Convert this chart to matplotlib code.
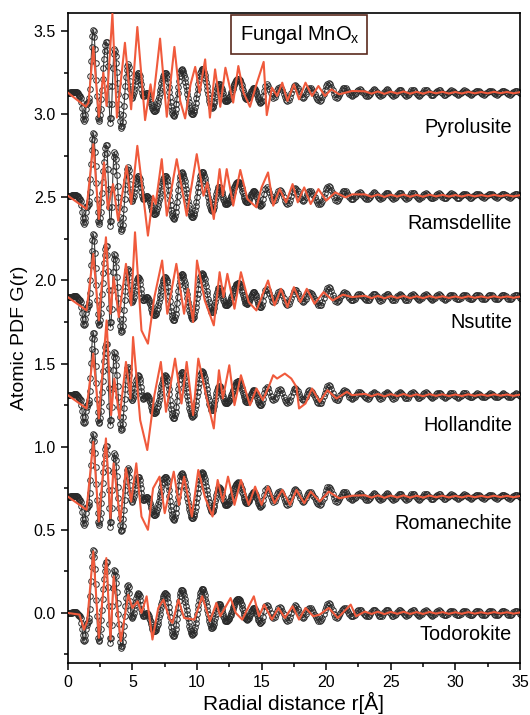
import numpy as np
import matplotlib
matplotlib.use("Agg")
import matplotlib.pyplot as plt
from matplotlib.ticker import MultipleLocator, FormatStrFormatter

plt.rcParams['font.family'] = ['Liberation Sans', 'DejaVu Sans']
plt.rcParams['mathtext.default'] = 'regular'

# ---------------- data ----------------
# Experimental PDF of fungal MnOx
# fine part: r = 0.00 ... 15.00 Å every 0.05 Å
exp_fine_step = 0.05
exp_g_fine = [
    0.000, 0.000, 0.000, 0.000, 0.001, 0.001, 0.002, 0.003, 0.004, 0.005,   # 0.00-0.45
    0.005, 0.006, 0.006, 0.005, 0.001, -0.004, -0.010, -0.015, -0.019, -0.020,  # 0.50-0.95
    -0.030, -0.058, -0.095, -0.133, -0.160, -0.170, -0.160, -0.132, -0.098, -0.070,  # 1.00-1.45
    -0.060, -0.056, -0.050, -0.031, 0.023, 0.101, 0.191, 0.277, 0.343, 0.377,  # 1.50-1.95
    0.373, 0.335, 0.265, 0.177, 0.075, -0.020, -0.099, -0.152, -0.170, -0.161,  # 2.00-2.45
    -0.136, -0.096, -0.040, 0.017, 0.083, 0.147, 0.204, 0.252, 0.288, 0.307,  # 2.50-2.95
    0.305, 0.255, 0.158, 0.041, -0.067, -0.151, -0.180, -0.151, -0.070, 0.040,  # 3.00-3.45
    0.150, 0.231, 0.260, 0.251, 0.223, 0.180, 0.124, 0.058, -0.008, -0.069,  # 3.50-3.95
    -0.130, -0.172, -0.200, -0.210, -0.201, -0.174, -0.132, -0.079, -0.020, 0.039,  # 4.00-4.45
    0.092, 0.134, 0.161, 0.170, 0.157, 0.120, 0.070, 0.020, -0.017, -0.030,  # 4.50-4.95
    -0.026, -0.016, 0.001, 0.022, 0.045, 0.068, 0.089, 0.106, 0.116, 0.120,  # 5.00-5.45
    0.115, 0.100, 0.077, 0.050, 0.023, 0.000, -0.015, -0.020, -0.018, -0.013,  # 5.50-5.95
    -0.007, -0.002, 0.000, -0.002, -0.007, -0.016, -0.028, -0.041, -0.055, -0.069,  # 6.00-6.45
    -0.083, -0.094, -0.103, -0.108, -0.110, -0.108, -0.102, -0.093, -0.080, -0.064,  # 6.50-6.95
    -0.046, -0.027, -0.005, 0.015, 0.036, 0.056, 0.074, 0.090, 0.103, 0.112,  # 7.00-7.45
    0.118, 0.120, 0.116, 0.105, 0.088, 0.063, 0.037, 0.006, -0.026, -0.057,  # 7.50-7.95
    -0.083, -0.106, -0.125, -0.136, -0.140, -0.135, -0.121, -0.099, -0.070, -0.036,  # 8.00-8.45
    0.000, 0.036, 0.070, 0.099, 0.121, 0.135, 0.140, 0.138, 0.131, 0.120,  # 8.50-8.95
    0.105, 0.086, 0.064, 0.043, 0.017, -0.007, -0.031, -0.054, -0.076, -0.095,  # 9.00-9.45
    -0.110, -0.121, -0.128, -0.130, -0.127, -0.118, -0.104, -0.085, -0.061, -0.035,  # 9.50-9.95
    -0.006, 0.021, 0.050, 0.076, 0.100, 0.119, 0.133, 0.142, 0.145, 0.142,  # 10.00-10.45
    0.135, 0.123, 0.106, 0.086, 0.064, 0.039, 0.016, -0.009, -0.031, -0.051,  # 10.50-10.95
    -0.068, -0.080, -0.088, -0.090, -0.087, -0.079, -0.065, -0.048, -0.028, -0.007,  # 11.00-11.45
    0.012, 0.030, 0.043, 0.052, 0.055, 0.053, 0.047, 0.037, 0.025, 0.010,  # 11.50-11.95
    -0.005, -0.019, -0.032, -0.042, -0.048, -0.050, -0.049, -0.046, -0.042, -0.036,  # 12.00-12.45
    -0.028, -0.019, -0.010, 0.001, 0.012, 0.023, 0.034, 0.044, 0.054, 0.063,  # 12.50-12.95
    0.070, 0.077, 0.081, 0.084, 0.085, 0.083, 0.078, 0.069, 0.058, 0.045,  # 13.00-13.45
    0.030, 0.015, 0.000, -0.013, -0.024, -0.033, -0.038, -0.040, -0.039, -0.035,  # 13.50-13.95
    -0.028, -0.020, -0.010, 0.000, 0.009, 0.018, 0.024, 0.029, 0.030, 0.028,  # 14.00-14.45
    0.021, 0.011, -0.001, -0.015, -0.029, -0.041, -0.051, -0.058, -0.060, -0.057,  # 14.50-14.95
    -0.050,                                                                   # 15.00
]
# coarse part: r = 15.1 ... 35.0 Å every 0.1 Å
exp_coarse_start = 15.1
exp_coarse_step = 0.1
exp_g_coarse = [
    -0.022, 0.012, 0.040, 0.050, 0.042, 0.022, -0.002, -0.022, -0.030,          # 15.1-15.9
    -0.024, -0.008, 0.013, 0.029, 0.035, 0.029, 0.014, -0.008, -0.029, -0.044,  # 16.0-16.9
    -0.050, -0.044, -0.026, -0.003, 0.021, 0.038, 0.045, 0.040, 0.026, 0.008,
    -0.011, -0.025, -0.030, -0.024, -0.009, 0.009, 0.024, 0.030, 0.027, 0.018,
    0.005, -0.010, -0.025, -0.038, -0.047, -0.050, -0.045, -0.029, -0.007, 0.016,
    0.038, 0.055, 0.060, 0.054, 0.037, 0.015, -0.008, -0.024, -0.030, -0.026,
    -0.015, 0.000, 0.015, 0.026, 0.030, 0.027, 0.018, 0.005, -0.008, -0.017,
    -0.020, -0.017, -0.010, 0.000, 0.010, 0.017, 0.020, 0.015, 0.005, -0.005,
    -0.013, -0.018, -0.020, -0.016, -0.006, 0.006, 0.016, 0.020, 0.016, 0.006,
    -0.006, -0.016, -0.021, -0.016, -0.006, 0.006, 0.015, 0.019, 0.016, 0.006,
    -0.007, -0.016, -0.020, -0.015, -0.006, 0.005, 0.015, 0.018, 0.014, 0.006,
    -0.006, -0.015, -0.019, -0.015, -0.006, 0.006, 0.014, 0.018, 0.015, 0.006,
    -0.006, -0.014, -0.018, -0.013, -0.005, 0.005, 0.013, 0.017, 0.013, 0.005,
    -0.005, -0.013, -0.016, -0.013, -0.005, 0.005, 0.012, 0.016, 0.013, 0.005,
    -0.005, -0.013, -0.015, -0.011, -0.004, 0.004, 0.011, 0.014, 0.011, 0.004,
    -0.004, -0.011, -0.014, -0.011, -0.004, 0.004, 0.011, 0.013, 0.011, 0.004,
    -0.004, -0.011, -0.013, -0.010, -0.004, 0.004, 0.010, 0.012, 0.010, 0.004,
    -0.004, -0.010, -0.012, -0.010, -0.004, 0.004, 0.010, 0.012, 0.010, 0.004,
    -0.004, -0.010, -0.012, -0.010, -0.004, 0.004, 0.010, 0.012, 0.010, 0.004,
    -0.004, -0.010, -0.012, -0.010, -0.004, 0.004, 0.010, 0.012, 0.010, 0.004,
    -0.004,
]

# Model PDFs (turning points, relative to each panel's baseline)
pyro_r = [0.0, 1.4, 1.6, 1.97, 2.4, 2.75, 3.0, 3.45, 3.8, 4.42, 4.9, 5.38, 5.98, 6.4, 6.6,
          7.14, 7.66, 8.25, 8.7, 9.08, 9.5, 9.86, 10.2, 10.63, 11.0, 11.4, 11.8, 12.2,
          12.8, 13.2, 13.6, 14.1, 14.6, 15.16, 15.4, 15.8, 16.2, 16.6, 17.0, 17.5,
          17.9, 18.4, 18.9, 19.4, 19.9, 20.4, 21.0, 22.0]
pyro_g = [0.0, -0.085, -0.06, 0.275, -0.145, 0.12, -0.08, 0.475, -0.15, 0.30, -0.10, 0.395,
          -0.165, 0.05, -0.05, 0.325, -0.145, 0.275, -0.05, -0.155, 0.05, 0.155, 0.0, 0.20,
          -0.15, 0.14, -0.085, 0.15, -0.06, 0.16, 0.0, -0.085, 0.05, 0.185, -0.135, 0.03,
          -0.02, 0.06, -0.05, 0.05, -0.04, 0.06, -0.02, 0.04, -0.02, 0.02, -0.01, 0.01]

rams_r = [0.0, 1.45, 1.97, 2.4, 2.8, 3.1, 3.5, 3.9, 4.55, 4.9, 5.38, 6.2, 6.6, 6.8, 7.27,
          7.66, 8.43, 9.2, 9.98, 10.5, 10.8, 11.3, 11.75, 12.0, 12.3, 12.8, 13.35, 13.9,
          14.6, 15.0, 15.5, 15.9, 16.4, 16.9, 17.4, 17.8, 18.3, 18.8, 19.4, 20.0, 20.7,
          21.5, 22.0]
rams_g = [0.0, -0.08, 0.31, -0.14, 0.20, -0.08, 0.07, -0.15, 0.18, -0.05, 0.30, -0.24, 0.0,
          -0.05, 0.22, -0.12, 0.22, -0.12, 0.25, 0.0, 0.08, -0.14, 0.16, 0.0, 0.16, -0.06,
          0.155, -0.02, -0.07, 0.05, 0.14, -0.06, 0.04, -0.04, 0.07, -0.04, 0.05, -0.05,
          0.04, -0.03, 0.02, -0.01, 0.008]

nsut_r = [0.0, 1.45, 1.97, 2.4, 2.95, 3.3, 3.55, 3.95, 4.5, 4.9, 5.2, 5.7, 6.2, 6.7, 7.3,
          7.7, 8.4, 9.0, 9.3, 9.7, 10.0, 10.6, 11.3, 11.75, 12.05, 12.35, 12.9, 13.4,
          14.0, 14.6, 15.5, 16.0, 16.5, 17.0, 17.5, 18.0, 18.5, 19.1, 19.8, 20.5, 21.3,
          22.0]
nsut_g = [0.0, -0.08, 0.26, -0.14, 0.36, -0.10, 0.12, -0.12, 0.20, -0.05, 0.39, -0.20,
          -0.28, 0.0, 0.22, -0.10, 0.20, -0.10, 0.05, -0.15, 0.22, -0.02, -0.17, 0.15, 0.0,
          0.14, -0.07, 0.15, -0.03, -0.08, 0.10, -0.05, 0.05, -0.06, 0.06, -0.03, 0.05,
          -0.04, 0.03, -0.02, 0.015, 0.0]

holl_r = [0.0, 1.45, 1.97, 2.4, 3.0, 3.35, 3.6, 4.0, 4.5, 4.85, 5.05, 5.6, 6.15, 6.7, 7.2,
          7.6, 8.3, 8.8, 9.2, 9.7, 10.1, 10.7, 11.3, 11.7, 12.0, 12.5, 12.9, 13.4, 14.1,
          14.6, 15.1, 15.6, 15.9, 16.2, 16.8, 17.3, 17.7, 17.9, 18.4, 18.9, 19.5, 20.1,
          20.8, 21.6, 22.0]
holl_g = [0.0, -0.08, 0.25, -0.14, 0.45, -0.12, 0.10, -0.14, 0.20, -0.02, 0.35, -0.15,
          -0.33, 0.0, 0.20, -0.10, 0.22, -0.05, 0.20, -0.12, 0.22, 0.0, -0.20, 0.15, -0.02,
          0.18, -0.06, 0.12, -0.06, 0.04, -0.03, 0.06, 0.12, 0.10, 0.13, 0.10, 0.05, -0.08,
          -0.05, 0.04, -0.04, 0.03, -0.02, 0.02, 0.0]

roma_r = [0.0, 1.45, 1.97, 2.4, 2.95, 3.3, 3.55, 4.05, 4.5, 4.9, 5.3, 5.7, 6.2, 6.6, 7.1,
          7.5, 8.2, 8.6, 9.0, 9.6, 10.1, 10.6, 11.2, 11.6, 12.0, 12.4, 12.9, 13.4, 14.0,
          14.5, 15.0, 15.5, 16.0, 16.6, 17.2, 17.7, 18.3, 18.8, 19.5, 20.2, 21.0, 22.0]
roma_g = [0.0, -0.08, 0.33, -0.15, 0.35, -0.13, 0.20, -0.15, 0.17, -0.03, 0.20, -0.12,
          -0.20, 0.05, 0.12, -0.10, 0.15, -0.05, 0.12, -0.12, 0.16, 0.0, -0.12, 0.10, -0.03,
          0.12, -0.05, 0.10, -0.05, 0.06, -0.05, 0.06, -0.04, 0.04, -0.05, 0.04, -0.04,
          0.03, -0.03, 0.03, -0.01, 0.005]

todo_r = [0.0, 0.9, 1.25, 1.5, 1.97, 2.4, 2.98, 3.3, 3.55, 4.1, 4.68, 5.0, 5.4, 5.7, 6.1,
          6.55, 7.0, 7.4, 7.9, 8.1, 8.56, 9.0, 9.8, 10.4, 11.0, 11.5, 11.8, 12.6, 13.0,
          13.5, 14.4, 14.8, 15.2, 15.8, 16.3, 16.8, 17.4, 17.9, 18.4, 19.0, 19.5, 20.2,
          20.9, 21.9, 22.3]
todo_g = [0.0, -0.01, -0.10, -0.05, 0.37, -0.15, 0.33, -0.16, 0.22, -0.17, 0.11, 0.03,
          0.07, 0.0, 0.10, -0.16, 0.03, 0.08, -0.04, -0.06, 0.08, -0.03, -0.04, 0.10, -0.05,
          0.06, -0.02, 0.09, 0.0, -0.04, 0.10, -0.02, 0.05, -0.04, 0.03, -0.03, 0.04, -0.04,
          0.03, -0.02, -0.01, 0.03, -0.03, 0.05, -0.02]

# small residual ripples of the models at large r (shared)
tail_r = [23.0, 23.5, 24.0, 24.5, 25.0, 25.5, 26.0, 26.5, 27.0, 27.5, 28.0, 28.5, 29.0,
          29.5, 30.0, 30.5, 31.0, 31.5, 32.0, 32.5, 33.0, 33.5, 34.0, 34.5, 35.0]
tail_g = [0.008, -0.006, 0.007, -0.007, 0.006, -0.005, 0.007, -0.006, 0.005, -0.006, 0.006,
          -0.004, 0.005, -0.005, 0.004, -0.005, 0.005, -0.004, 0.004, -0.004, 0.005, -0.003,
          0.004, -0.004, 0.003]

names = ['Pyrolusite', 'Ramsdellite', 'Nsutite', 'Hollandite', 'Romanechite', 'Todorokite']
offsets = [3.13, 2.51, 1.90, 1.31, 0.70, 0.0]
model_r = [pyro_r, rams_r, nsut_r, holl_r, roma_r, todo_r]
model_g = [pyro_g, rams_g, nsut_g, holl_g, roma_g, todo_g]
label_y = [2.92, 2.34, 1.745, 1.13, 0.54, -0.13]

# ---------------- plot ----------------
fig = plt.figure(figsize=(5.30, 7.15), dpi=100)
ax = fig.add_axes([0.128, 0.073, 0.853, 0.909])

r_exp = np.concatenate([np.arange(len(exp_g_fine)) * exp_fine_step,
                        exp_coarse_start + np.arange(len(exp_g_coarse)) * exp_coarse_step])
g_exp = np.array(exp_g_fine + exp_g_coarse)
red = '#f05a3c'

for name, off, mr, mg, ly in zip(names, offsets, model_r, model_g, label_y):
    ax.plot(r_exp, g_exp + off, color='#3a3a3a', lw=0.8, zorder=2)
    ax.plot(r_exp, g_exp + off, linestyle='none', marker='o', ms=4.0, mfc='none',
            mec='#2a2a2a', mew=0.7, zorder=2)
    rr = list(mr) + tail_r
    gg = list(mg) + tail_g
    ax.plot(rr, np.array(gg) + off, color=red, lw=1.5, zorder=3, solid_joinstyle='round')
    ax.text(34.4, ly, name, ha='right', va='center', fontsize=14.3, zorder=5)

ax.text(17.93, 3.48, 'Fungal MnO$_x$', ha='center', va='center', fontsize=14.5,
        bbox=dict(boxstyle='square,pad=0.4', facecolor='white', edgecolor='#5a2a1e', lw=1.2),
        zorder=6)

ax.set_xlim(0, 35)
ax.set_ylim(-0.3, 3.61)
ax.xaxis.set_major_locator(MultipleLocator(5))
ax.xaxis.set_minor_locator(MultipleLocator(2.5))
ax.yaxis.set_major_locator(MultipleLocator(0.5))
ax.yaxis.set_minor_locator(MultipleLocator(0.25))
ax.yaxis.set_major_formatter(FormatStrFormatter('%.1f'))
ax.tick_params(which='both', direction='out', top=False, right=False, labelsize=11.5, width=1.1)
ax.tick_params(which='major', length=5)
ax.tick_params(which='minor', length=3)
for s in ax.spines.values():
    s.set_linewidth(1.2)

ax.set_xlabel('Radial distance r[Å]', fontsize=15, labelpad=2)
ax.set_ylabel('Atomic PDF G(r)', fontsize=14, labelpad=4)

fig.savefig('out.png', dpi=100)
